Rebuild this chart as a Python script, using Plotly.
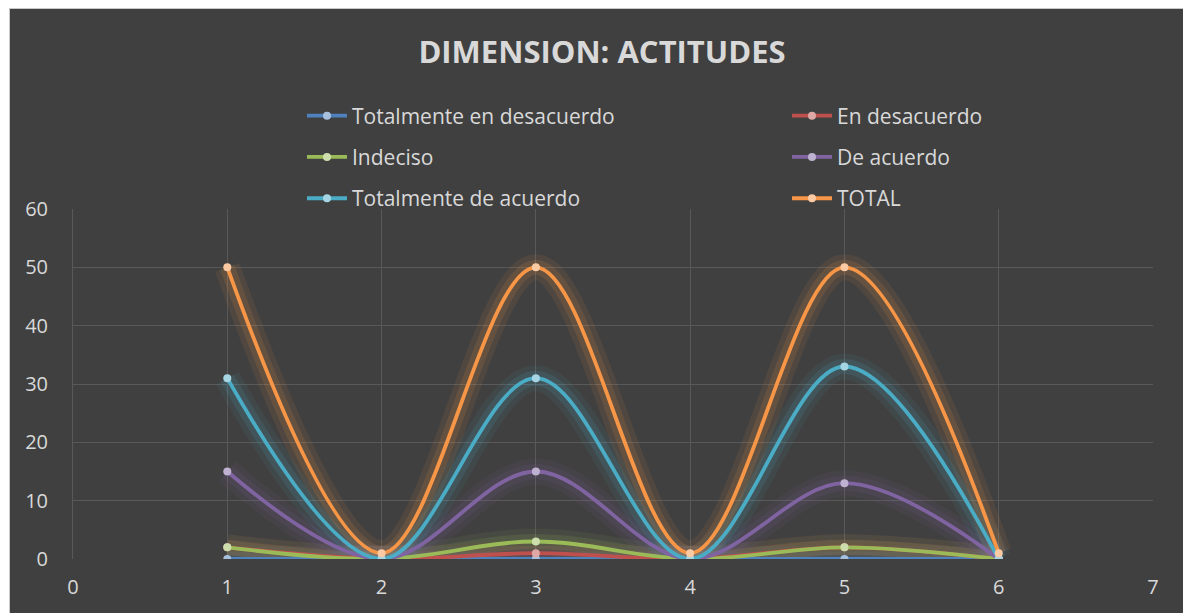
import plotly.graph_objects as go

x_vals = [1, 2, 3, 4, 5, 6]
series_names = ["Totalmente en desacuerdo", "En desacuerdo", "Indeciso",
                "De acuerdo", "Totalmente de acuerdo", "TOTAL"]
tot_desacuerdo = [0, 0, 0, 0, 0, 0]
en_desacuerdo = [2, 0, 1, 0, 2, 0]
indeciso = [2, 0, 3, 0, 2, 0]
de_acuerdo = [15, 0, 15, 0, 13, 0]
tot_acuerdo = [31, 0, 31, 0, 33, 0]
total = [50, 1, 50, 1, 50, 1]

values = [tot_desacuerdo, en_desacuerdo, indeciso, de_acuerdo, tot_acuerdo, total]
line_colors = ["#4F81BD", "#C0504D", "#9BBB59", "#8064A2", "#4BACC6", "#F79646"]
marker_colors = ["#A7C0DE", "#DFA8A6", "#CDDDAC", "#BFB1D0", "#A5D5E2", "#FBCAA2"]
legend_ids = ["legend", "legend2", "legend", "legend2", "legend", "legend2"]

FONT = "Open Sans"
TXT = "#D9D9D9"
BG = "#404040"

fig = go.Figure()

# glow layers
for vals, col in zip(values, line_colors):
    for w, op in [(26, 0.08), (15, 0.13)]:
        fig.add_trace(go.Scatter(
            x=x_vals, y=vals, mode="lines",
            line=dict(color=col, width=w, shape="spline", smoothing=1.0),
            opacity=op, showlegend=False, hoverinfo="skip"))

for i, (name, vals) in enumerate(zip(series_names, values)):
    fig.add_trace(go.Scatter(
        x=x_vals, y=vals, mode="lines+markers", name=name,
        line=dict(color=line_colors[i], width=3.8, shape="spline", smoothing=1.0),
        marker=dict(color=marker_colors[i], size=8),
        legend=legend_ids[i], legendgroup=name))

# body margin removed by post_script; coordinates are screenshot pixels
W, H = 1183, 613
L, R, T, B = 73, 30, 209, 54
pw = W - L - R
ph = H - T - B

def px_x(p):
    return (p - L) / pw

def px_y(p):
    return (H - B - p) / ph

legend_common = dict(
    font=dict(family=FONT, size=21, color=TXT),
    bgcolor="rgba(0,0,0,0)", borderwidth=0,
    orientation="v", xanchor="left", yanchor="middle",
    tracegroupgap=11, itemwidth=40,
)

fig.update_layout(
    width=W, height=H,
    margin=dict(l=L, r=R, t=T, b=B),
    paper_bgcolor=BG, plot_bgcolor=BG,
    title=dict(text="<b>DIMENSION: ACTITUDES</b>", x=px_x(602), xref="paper",
               xanchor="center", y=1 - 52 / H, yanchor="middle",
               font=dict(family=FONT, size=31, color=TXT)),
    legend=dict(x=px_x(302), y=px_y(157), **legend_common),
    legend2=dict(x=px_x(787), y=px_y(157), **legend_common),
    xaxis=dict(range=[0, 7], dtick=1, tick0=0, showgrid=True, gridcolor="#595959",
               gridwidth=1, zeroline=False, showline=False,
               tickfont=dict(family=FONT, size=20, color=TXT), ticks="",
               ticklabelstandoff=14, fixedrange=True),
    yaxis=dict(range=[0, 60], dtick=10, showgrid=True, gridcolor="#595959",
               gridwidth=1, zeroline=False, showline=True, linecolor="#595959",
               tickfont=dict(family=FONT, size=20, color=TXT), ticks="",
               ticklabelstandoff=20, fixedrange=True),
    shapes=[
        dict(type="rect", xref="paper", yref="paper",
             x0=px_x(-5), x1=px_x(9), y0=px_y(H + 5), y1=px_y(-5),
             fillcolor="white", line=dict(width=0), layer="above"),
        dict(type="rect", xref="paper", yref="paper",
             x0=px_x(-5), x1=px_x(W + 5), y0=px_y(8), y1=px_y(-5),
             fillcolor="white", line=dict(width=0), layer="above"),
        dict(type="line", xref="paper", yref="paper",
             x0=px_x(9.5), x1=px_x(9.5), y0=px_y(8), y1=px_y(H + 5),
             line=dict(color="#C8C8C8", width=1), layer="above"),
        dict(type="line", xref="paper", yref="paper",
             x0=px_x(9), x1=px_x(W + 5), y0=px_y(8.5), y1=px_y(8.5),
             line=dict(color="#C8C8C8", width=1), layer="above"),
    ],
)

fig.write_html(
    "out.html",
    config={"displayModeBar": False},
    post_script="document.documentElement.style.overflow='hidden';"
                "document.body.style.overflow='hidden';"
                "document.body.style.margin='0';"
                "document.body.style.padding='0';",
)
